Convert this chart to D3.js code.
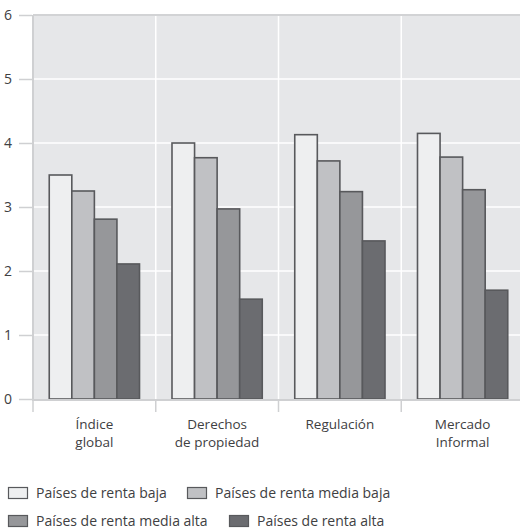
<!DOCTYPE html>
<html>
<head>
<meta charset="utf-8">
<script src="https://cdn.jsdelivr.net/npm/d3@7"></script>
<style>
  html, body { margin: 0; padding: 0; background: #fff; }
  svg text { font-family: "Open Sans", Lato, sans-serif; fill: #404042; }
</style>
</head>
<body>
<svg id="chart" width="520" height="530"></svg>
<script>
// Categories (two-line labels) and series
const categories = ["Índice global", "Derechos de propiedad", "Regulación", "Mercado Informal"];
const categoryLines = [["Índice", "global"], ["Derechos", "de propiedad"], ["Regulación"], ["Mercado", "Informal"]];
const seriesNames = ["Países de renta baja", "Países de renta media baja", "Países de renta media alta", "Países de renta alta"];
const rentaBaja = [3.50, 4.00, 4.13, 4.15];
const rentaMediaBaja = [3.25, 3.77, 3.72, 3.78];
const rentaMediaAlta = [2.81, 2.97, 3.24, 3.27];
const rentaAlta = [2.11, 1.56, 2.47, 1.70];
const yTicks = [0, 1, 2, 3, 4, 5, 6];

const seriesValues = [rentaBaja, rentaMediaBaja, rentaMediaAlta, rentaAlta];
const fills = ["#eeeff0", "#c0c1c4", "#96979a", "#6b6c70"];

const svg = d3.select("#chart");
const plot = { left: 33, right: 524, top: 15, bottom: 399 };

const x = d3.scaleBand().domain(categories).range([plot.left, plot.right]).paddingInner(0).paddingOuter(0);
const xs = d3.scaleBand().domain(seriesNames).range([0, x.bandwidth()]).paddingOuter(0.72).paddingInner(0);
const y = d3.scaleLinear().domain([0, 6]).range([plot.bottom, plot.top]);

// plot background
svg.append("rect")
  .attr("x", plot.left).attr("y", plot.top)
  .attr("width", plot.right - plot.left).attr("height", plot.bottom - plot.top)
  .attr("fill", "#e6e7e9");

// horizontal gridlines
svg.append("g").selectAll("line").data(yTicks.filter(t => t > 0 && t < 6)).join("line")
  .attr("x1", plot.left).attr("x2", plot.right)
  .attr("y1", d => y(d)).attr("y2", d => y(d))
  .attr("stroke", "#ffffff").attr("stroke-width", 1.5);

// vertical separators between categories
svg.append("g").selectAll("line").data(categories.slice(1)).join("line")
  .attr("x1", d => x(d)).attr("x2", d => x(d))
  .attr("y1", plot.top).attr("y2", plot.bottom)
  .attr("stroke", "#ffffff").attr("stroke-width", 1.5);

// frame: top and left
svg.append("line").attr("x1", plot.left).attr("x2", plot.right)
  .attr("y1", plot.top).attr("y2", plot.top)
  .attr("stroke", "#d2d3d5").attr("stroke-width", 2);
svg.append("line").attr("x1", plot.left).attr("x2", plot.left)
  .attr("y1", plot.top).attr("y2", plot.bottom + 1)
  .attr("stroke", "#cfd0d2").attr("stroke-width", 2);

// y axis
const yAxis = d3.axisLeft(y).tickValues(yTicks).tickSize(13).tickPadding(7).tickFormat(d3.format("d"));
const gy = svg.append("g").attr("transform", `translate(${plot.left - 1},0)`).call(yAxis);
gy.select(".domain").remove();
gy.selectAll(".tick line").attr("stroke", "#cfd0d2").attr("stroke-width", 1.5);
gy.selectAll(".tick text").attr("font-size", 14).attr("fill", "#404042")
  .style("font-family", "'Open Sans', Lato, sans-serif");

// bars
const groups = svg.append("g").selectAll("g").data(categories).join("g")
  .attr("transform", d => `translate(${x(d)},0)`);
groups.selectAll("rect").data((d, i) => seriesValues.map((s, j) => ({ name: seriesNames[j], value: s[i], j })))
  .join("rect")
  .attr("x", d => xs(d.name))
  .attr("y", d => y(d.value))
  .attr("width", xs.bandwidth())
  .attr("height", d => y(0) - y(d.value))
  .attr("fill", d => fills[d.j])
  .attr("stroke", "#58595c").attr("stroke-width", 1.6);

// baseline
svg.append("line").attr("x1", plot.left - 1).attr("x2", plot.right)
  .attr("y1", plot.bottom + 1).attr("y2", plot.bottom + 1)
  .attr("stroke", "#cfd0d2").attr("stroke-width", 2);

// x-axis ticks at category boundaries
svg.append("g").selectAll("line").data(categories).join("line")
  .attr("x1", d => x(d)).attr("x2", d => x(d))
  .attr("y1", plot.bottom + 1).attr("y2", plot.bottom + 13)
  .attr("stroke", "#cfd0d2").attr("stroke-width", 1.5);

// category labels, one text element per line
const labelData = categories.flatMap((c, i) =>
  categoryLines[i].map((line, k) => ({ c, line, k })));
svg.append("g").selectAll("text").data(labelData).join("text")
  .attr("x", d => x(d.c) + x.bandwidth() / 2)
  .attr("y", d => 429 + d.k * 18)
  .attr("text-anchor", "middle")
  .attr("font-size", 13.5)
  .text(d => d.line);

// legend
const legendPos = [[8, 487], [187, 487], [8, 515], [229, 515]];
const legend = svg.append("g").selectAll("g").data(seriesNames).join("g")
  .attr("transform", (d, i) => `translate(${legendPos[i][0]},${legendPos[i][1]})`);
legend.append("rect").attr("x", 0.5).attr("y", 0.5).attr("width", 19).attr("height", 11)
  .attr("fill", (d, i) => fills[i]).attr("stroke", "#58595c").attr("stroke-width", 1.2);
legend.append("text").attr("x", 28).attr("y", 11).attr("font-size", 14).text(d => d);
</script>
</body>
</html>
